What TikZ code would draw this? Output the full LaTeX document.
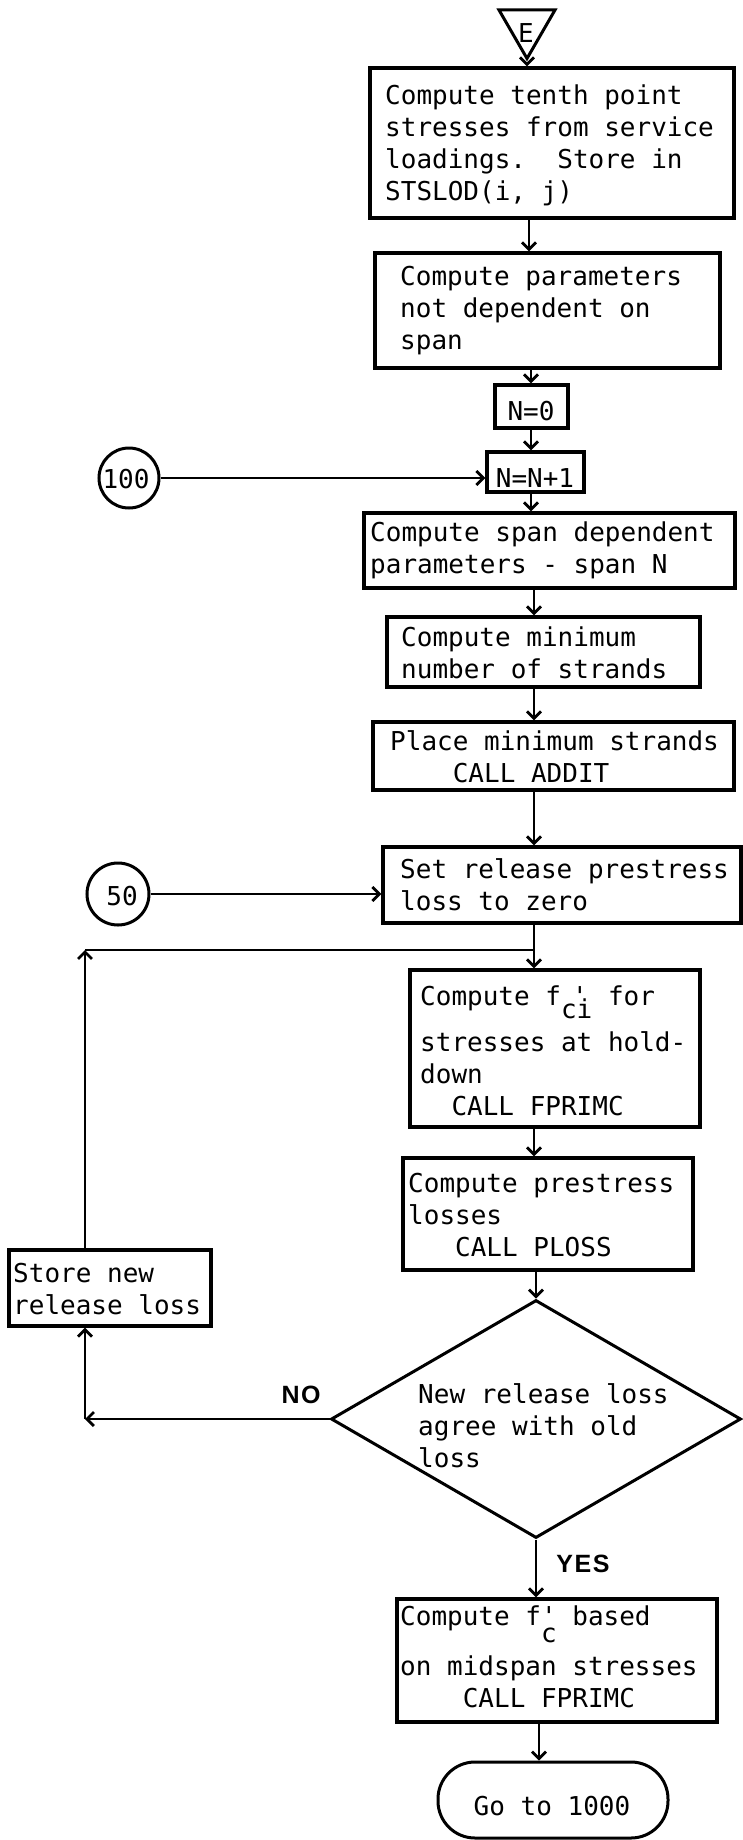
\documentclass[tikz,border=0pt]{standalone}
\usepackage{fontspec}
\newfontfamily\monof{DejaVu Sans Mono}
\newfontfamily\labf[LetterSpace=6]{Liberation Sans}
\usetikzlibrary{shapes.geometric,arrows.meta}

% width of one character cell of the typewriter face at 26pt
\newlength\cw \setlength\cw{15.652pt}
\newcommand\ind[1]{\hspace*{#1\cw}}

\tikzset{
  txt/.style={font=\monof\fontsize{26}{32}\selectfont, inner sep=0pt, align=left},
  flowbox/.style={draw, rectangle, line width=3.4pt, inner sep=0pt},
  conn/.style={line width=2.8pt},
  arr/.style={conn, -{Straight Barb[length=7pt,width=14pt]}},
  lab/.style={font=\labf\bfseries\fontsize{25}{30}\selectfont, inner sep=0pt},
  tri/.style={regular polygon, regular polygon sides=3, shape border rotate=180,
              draw, line width=3pt, minimum size=65pt, inner sep=0pt},
  conn circ/.style={circle, draw, line width=3pt, inner sep=0pt},
}

% process box: name, left, right, top, bottom, text x, first baseline, text
\newcommand\procbox[8]{%
  \pgfmathsetmacro\pbw{#3-(#2)}%
  \pgfmathsetmacro\pbh{#5-(#4)}%
  \pgfmathsetmacro\pbx{(#2+#3)/2}%
  \pgfmathsetmacro\pby{(#4+#5)/2}%
  \node[flowbox, minimum width=\pbw pt, minimum height=\pbh pt] (#1) at (\pbx,\pby) {};%
  \node[txt, anchor=north west] (#1-t) at (#6, #7-22.4) {\strut #8};%
}

\begin{document}
\begin{tikzpicture}[x=1pt, y=-1pt]
\fill[white] (0,0) rectangle (742,1840);
\useasboundingbox (0,0) rectangle (742,1840);

% entry connector
\node[tri] (E) at (527,26) {};
\node[txt, anchor=base] (E-t) at (526,42) {E};

\procbox{b1}{370}{734}{68}{218}{385}{104}{Compute tenth point\\stresses from service\\loadings.\ind{2}Store in\\STSLOD(i, j)}
\procbox{b2}{375}{720}{253}{368}{400}{285}{Compute parameters\\not dependent on\\span}

\node[flowbox, minimum width=73pt, minimum height=43pt] (N0) at (531.5,406.5) {};
\node[txt, anchor=base] (N0-t) at (531,420) {N=0};
\node[flowbox, minimum width=97pt, minimum height=40pt] (N1) at (535.5,472) {};
\node[txt, anchor=base] (N1-t) at (535,487) {N=N+1};

\node[conn circ, minimum size=60pt] (c100) at (129,478) {};
\node[txt, anchor=base] (c100-t) at (126,488) {100};

\procbox{b3}{364}{735}{513}{588}{370}{541}{Compute span dependent\\parameters - span N}
\procbox{b4}{387}{700}{617}{687}{401}{646}{Compute minimum\\number of strands}
\procbox{b5}{373}{734}{722}{790}{390}{750}{Place minimum strands\\\ind{4}CALL ADDIT}
\procbox{b6}{383}{741}{847}{923}{400}{878}{Set release prestress\\loss to zero}

\node[conn circ, minimum size=62pt] (c50) at (118,894) {};
\node[txt, anchor=base] (c50-t) at (122,905) {50};

\procbox{b7}{410}{700}{970}{1127}{420}{1005}{Compute f\rlap{\hspace{0.7\cw}'}\smash{\raisebox{-13pt}{ci}} for\\[14pt]stresses at hold-\\down\\\ind{2}CALL FPRIMC}
\procbox{b8}{403}{693}{1158}{1270}{408}{1192}{Compute prestress\\losses\\\ind{3}CALL PLOSS}
\procbox{b9}{9}{211}{1250}{1326}{13}{1282}{Store new\\release loss}

% decision
\node[diamond, draw, line width=3pt, minimum width=410pt, minimum height=238pt, inner sep=0pt] (dia) at (536,1419) {};
\node[txt, anchor=north west] (dia-t) at (418,1403-22.4) {\strut New release loss\\agree with old\\loss};
\node[lab, anchor=base] (no) at (301,1403) {NO};
\node[lab, anchor=base] (yes) at (583,1572) {YES};

\procbox{b10}{397}{717}{1599}{1722}{400}{1625}{Compute f\rlap{'}\smash{\raisebox{-17pt}{c}} based\\[18pt]on midspan stresses\\\ind{4}CALL FPRIMC}

% terminal
\node[draw, line width=3pt, rounded corners=37pt, minimum width=230pt, minimum height=76pt, inner sep=0pt] (term) at (553,1800) {};
\node[txt, anchor=base] (term-t) at (552,1815) {Go to 1000};

% main flow line
\coordinate (axA) at (529,0);
\coordinate (axB) at (531,0);
\coordinate (axC) at (534,0);
\coordinate (axD) at (539,0);
\draw[arr] (E.corner 1) -- (E.corner 1 |- b1.north);
\draw[arr] (b1.south -| axA) -- (b2.north -| axA);
\draw[arr] (b2.south -| axB) -- (N0.north -| axB);
\draw[arr] (N0.south -| axB) -- (N1.north -| axB);
\draw[arr] (N1.south -| axB) -- (b3.north -| axB);
\draw[arr] (b3.south -| axC) -- (b4.north -| axC);
\draw[arr] (b4.south -| axC) -- (b5.north -| axC);
\draw[arr] (b5.south -| axC) -- (b6.north -| axC);
\draw[arr] (b6.south -| axC) -- (b7.north -| axC);
\draw[arr] (b7.south -| axC) -- (b8.north -| axC);
\draw[arr] (b8.south -| dia.north) -- (dia.north);
\draw[arr] (dia.south) -- (dia.south |- b10.north);
\draw[arr] (b10.south -| axD) -- (term.north -| axD);

% off-page re-entry points
\draw[arr] (c100.east) -- (c100.east -| N1.west);
\draw[arr] (c50.east) -- (c50.east -| b6.west);

% iteration loop on the release loss
\coordinate (lc) at (85,950);
\coordinate (lj) at (lc -| axC);
\coordinate (nc) at (dia.west -| lc);
\draw[arr] (dia.west) -- (nc);
\draw[arr] (nc) -- (b9.south -| lc);
\draw[arr] (b9.north -| lc) -- (lc);
\draw[conn] (lc) -- (lj);
\end{tikzpicture}
\end{document}
